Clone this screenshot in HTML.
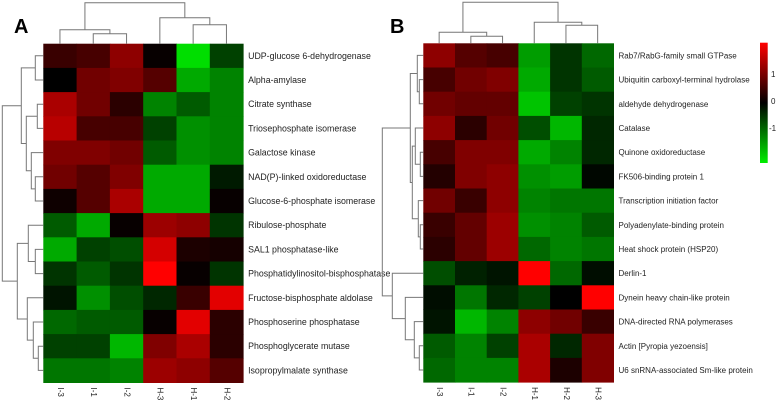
<!DOCTYPE html>
<html><head><meta charset="utf-8"><style>
body{margin:0;background:#fff;}
svg text{font-family:"Liberation Sans",sans-serif;}
</style></head><body>
<svg id="c" width="778" height="400" xmlns="http://www.w3.org/2000/svg">
<text x="14" y="33" font-size="20" font-weight="bold">A</text>
<text x="390" y="33" font-size="20" font-weight="bold">B</text>
</svg>
<script>
const colsA=["I-3","I-1","I-2","H-3","H-1","H-2"];
const rowsA=["UDP-glucose 6-dehydrogenase","Alpha-amylase","Citrate synthase","Triosephosphate isomerase","Galactose kinase","NAD(P)-linked oxidoreductase","Glucose-6-phosphate isomerase","Ribulose-phosphate","SAL1 phosphatase-like","Phosphatidylinositol-bisphosphatase","Fructose-bisphosphate aldolase","Phosphoserine phosphatase","Phosphoglycerate mutase","Isopropylmalate synthase"];
const valsA=[
[0.4,0.5,1.0,0.05,-1.7,-0.5],
[0.0,0.8,0.9,0.6,-1.3,-1.0],
[1.2,0.8,0.3,-1.0,-0.7,-1.0],
[1.3,0.5,0.5,-0.5,-1.1,-1.0],
[0.9,0.9,0.8,-0.7,-1.1,-1.0],
[0.8,0.6,0.9,-1.3,-1.3,-0.2],
[0.1,0.6,1.2,-1.3,-1.3,0.05],
[-0.7,-1.3,0.05,1.1,1.0,-0.4],
[-1.3,-0.5,-0.6,1.5,0.2,0.15],
[-0.4,-0.7,-0.4,1.8,0.05,-0.4],
[-0.15,-1.1,-0.6,-0.3,0.4,1.6],
[-0.8,-0.7,-0.7,0.05,1.6,0.3],
[-0.5,-0.5,-1.4,0.9,1.2,0.3],
[-0.9,-0.9,-1.0,1.1,1.0,0.6]];
const colsB=["I-3","I-1","I-2","H-1","H-2","H-3"];
const rowsB=["Rab7/RabG-family small GTPase","Ubiquitin carboxyl-terminal hydrolase","aldehyde dehydrogenase","Catalase","Quinone oxidoreductase","FK506-binding protein 1","Transcription initiation factor","Polyadenylate-binding protein","Heat shock protein (HSP20)","Derlin-1","Dynein heavy chain-like protein","DNA-directed RNA polymerases","Actin [Pyropia yezoensis]","U6 snRNA-associated Sm-like protein"];
const valsB=[
[1.0,0.6,0.5,-1.2,-0.4,-0.8],
[0.5,0.8,0.9,-1.3,-0.4,-0.7],
[0.8,0.7,0.7,-1.5,-0.5,-0.4],
[1.0,0.3,0.8,-0.6,-1.4,-0.3],
[0.5,0.9,0.9,-1.3,-1.0,-0.3],
[0.25,0.9,1.0,-1.1,-1.2,-0.05],
[0.8,0.4,1.0,-1.0,-0.9,-0.9],
[0.4,0.7,1.1,-1.1,-1.0,-0.7],
[0.3,0.7,1.1,-0.8,-1.0,-0.9],
[-0.6,-0.25,-0.15,1.8,-0.8,-0.1],
[-0.1,-0.9,-0.3,-0.5,0.0,1.8],
[-0.15,-1.4,-1.0,1.0,0.8,0.4],
[-0.7,-1.0,-0.5,1.2,-0.3,0.9],
[-0.8,-1.0,-1.0,1.2,0.2,0.9]];
const legendTicks=[1,0,-1];
const colTreeA=[[0,[1,2,10],14],[3,[4,5,19],26],41];
const rowTreeA=[[[0,1,8],[[2,3,6],[4,[5,6,8],12],17],22],[[7,[8,9,8],15],[10,[11,[12,13,5],10],16],26],41];
const colTreeB=[[0,[1,2,7],11],[3,[4,5,18],21],41];
const rowTreeB=[[[0,[1,2,4],6],[[3,[4,5,3],8],[6,[7,8,3],5],11],13],[9,[10,[11,[12,13,4],9],18],31],41];

const NS="http://www.w3.org/2000/svg";
const svg=document.getElementById('c');
function mk(t,a){const e=document.createElementNS(NS,t);for(const k in a)e.setAttribute(k,a[k]);svg.appendChild(e);return e;}
function col(v){const s=Math.min(1,Math.abs(v)/1.8);const c=Math.round(s*255);return v>=0?`rgb(${c},0,0)`:`rgb(0,${Math.round(s*235)},0)`;}
function heat(x0,y0,cw,rh,rows,cols,vals,p,fs){
  vals.forEach((r,i)=>r.forEach((v,j)=>{
    const e=mk('rect',{x:x0+j*cw,y:y0+i*rh,width:cw+0.5,height:rh+0.5,fill:col(v)});
    
    
  }));
  rows.forEach((n,i)=>{const t=mk('text',{x:x0+cols.length*cw+5,y:y0+i*rh+rh/2+3,'font-size':fs,fill:'#222'});t.textContent=n;
    
    });
  cols.forEach((n,j)=>{const cx=x0+j*cw+cw/2,cy=y0+vals.length*rh+5;const t=mk('text',{x:cx,y:cy,'font-size':8,fill:'#222',transform:`rotate(90 ${cx} ${cy})`,'dominant-baseline':'middle'});t.textContent=n;
    
    });
}
function dend(tree,pos,base,col,p){
  function rec(n){
    if(typeof n==='number')return {p:pos(n),h:0};
    const a=rec(n[0]),b=rec(n[1]),h=n[2];
    let d;
    if(col){const y=base-h;d=`M${a.p},${base-a.h}V${y}H${b.p}V${base-b.h}`;}
    else{const x=base-h;d=`M${base-a.h},${a.p}H${x}V${b.p}H${base-b.h}`;}
    const e=mk('path',{d:d,fill:'none',stroke:'#777','stroke-width':1});
    
    
    return {p:(a.p+b.p)/2,h:h};
  }
  rec(tree);
}
const A={x:43.3,y:43.7,cw:33.3,rh:24.2},B={x:423.3,y:43.3,cw:31.7,rh:24.2};
heat(A.x,A.y,A.cw,A.rh,rowsA,colsA,valsA,'a',8.8);
heat(B.x,B.y,B.cw,B.rh,rowsB,colsB,valsB,'b',8);
dend(colTreeA,j=>A.x+j*A.cw+A.cw/2,A.y,true,'col-a');
dend(rowTreeA,i=>A.y+i*A.rh+A.rh/2,A.x,false,'row-a');
dend(colTreeB,j=>B.x+j*B.cw+B.cw/2,B.y,true,'col-b');
dend(rowTreeB,i=>B.y+i*B.rh+B.rh/2,B.x,false,'row-b');
const defs=mk('defs',{});
defs.innerHTML='<linearGradient id="lg" x1="0" y1="0" x2="0" y2="1"><stop offset="0" stop-color="#ff0000"/><stop offset="0.5" stop-color="#000"/><stop offset="1" stop-color="#00ee00"/></linearGradient>';
const lb=mk('rect',{x:760,y:42.7,width:7.7,height:120.3,fill:'url(#lg)'});


const lv=v=>101-v*27;
legendTicks.forEach(v=>{const t=mk('text',{x:v<0?769:771,y:lv(v)+3,'font-size':8,fill:'#222'});t.textContent=String(v);
  
  });
</script>
</body></html>
